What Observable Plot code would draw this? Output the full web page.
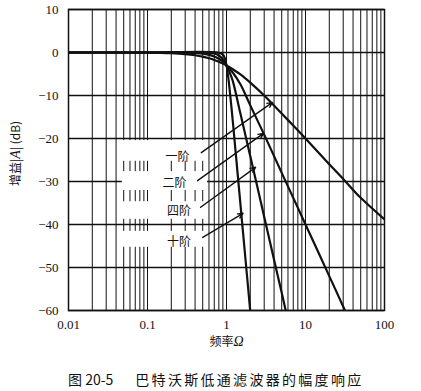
<!DOCTYPE html>
<html>
<head>
<meta charset="utf-8">
<script src="https://cdn.jsdelivr.net/npm/d3@7"></script>
<script src="https://cdn.jsdelivr.net/npm/@observablehq/plot@0.6"></script>
<style>
  html, body { margin: 0; padding: 0; background: #fff; }
  #wrap { position: relative; width: 421px; height: 391px; }
  #caption { position: absolute; left: 68px; top: 369px; font: 14px 'Noto Sans CJK SC', sans-serif; color: #111; white-space: nowrap; }
  #caption .t { margin-left: 22px; letter-spacing: 2.3px; }
</style>
</head>
<body>
<div id="wrap">
  <div id="chart"></div>
  <div id="caption"><span>图 20-5</span><span class="t">巴特沃斯低通滤波器的幅度响应</span></div>
</div>
<script>
// ---- data ----
const orders = ["一阶", "二阶", "四阶", "十阶"];

const omega1 = [0.01, 0.1, 0.2, 0.3, 0.4, 0.5, 0.6, 0.7, 0.8, 0.9, 1, 1.2, 1.5, 2, 3, 5, 7, 10, 20, 30, 50, 100];
const gain1  = [0, -0.04, -0.17, -0.37, -0.64, -0.97, -1.34, -1.73, -2.15, -2.57, -3.0, -3.9, -5.1, -7.0, -10.0, -14.2, -17.0, -20.0, -26.0, -29.4, -33.8, -38.8];

const omega2 = [0.01, 0.1, 0.3, 0.5, 0.6, 0.7, 0.8, 0.9, 1, 1.2, 1.5, 2, 3, 5, 7, 10, 20, 31.6];
const gain2  = [0, 0, -0.03, -0.26, -0.54, -0.93, -1.45, -2.08, -3.0, -4.65, -7.4, -12.3, -19.1, -28.0, -33.8, -40.0, -52.0, -60.0];

const omega4 = [0.01, 0.1, 0.5, 0.6, 0.7, 0.8, 0.9, 1, 1.1, 1.2, 1.5, 2, 3, 4, 5, 5.6];
const gain4  = [0, 0, -0.02, -0.07, -0.24, -0.7, -1.6, -3.0, -4.7, -6.6, -14.2, -24.1, -38.2, -48.2, -55.9, -59.9];

const omega10 = [0.01, 0.1, 0.8, 0.9, 0.95, 1, 1.05, 1.1, 1.2, 1.3, 1.5, 1.7, 2];
const gain10  = [0, 0, -0.05, -0.5, -1.33, -3.0, -5.6, -8.9, -15.9, -22.8, -35.2, -46.1, -60.2];

const xTicks = [0.01, 0.1, 1, 10, 100];
const yTicks = [10, 0, -10, -20, -30, -40, -50, -60];
const xGrid = [0.01, 0.02, 0.03, 0.04, 0.05, 0.06, 0.07, 0.08, 0.09,
               0.1, 0.2, 0.3, 0.4, 0.5, 0.6, 0.7, 0.8, 0.9,
               1, 2, 3, 4, 5, 6, 7, 8, 9,
               10, 20, 30, 40, 50, 60, 70, 80, 90, 100];

// label boxes (white patches behind labels), in data units
const boxX1 = [0.048, 0.048, 0.048, 0.048];
const boxX2 = [0.575, 0.575, 0.575, 0.575];
const boxY1 = [-20.5, -27.7, -34.7, -41.6];
const boxY2 = [-25.3, -32.1, -38.8, -45.3];

// label positions and arrows, in data units
const labelX = [0.24, 0.22, 0.25, 0.25];
const labelY = [-24.4, -30.5, -37.0, -44.0];
const arrowX1 = [0.48, 0.43, 0.47, 0.50];
const arrowY1 = [-23.3, -29.8, -36.0, -43.0];
const arrowX2 = [3.82, 2.94, 2.33, 1.62];
const arrowY2 = [-11.6, -18.8, -26.7, -37.4];

// ---- build tables ----
const series = [[omega1, gain1], [omega2, gain2], [omega4, gain4], [omega10, gain10]];
const curves = series.flatMap(([w, g], i) => w.map((v, j) => ({order: orders[i], w: v, g: g[j]})));
const boxes = orders.map((o, i) => ({x1: boxX1[i], x2: boxX2[i], y1: boxY1[i], y2: boxY2[i]}));
const labels = orders.map((o, i) => ({text: o, x: labelX[i], y: labelY[i]}));
const arrows = orders.map((o, i) => ({x1: arrowX1[i], y1: arrowY1[i], x2: arrowX2[i], y2: arrowY2[i]}));

const fmt = d => d < 0 ? "\u2212" + (-d) : String(d);

const chart = Plot.plot({
  width: 421,
  height: 358,
  marginTop: 9,
  marginBottom: 48,
  marginLeft: 68,
  marginRight: 37,
  style: {fontFamily: "'Liberation Serif', 'Noto Sans CJK SC', serif", fontSize: "13px", color: "#111", background: "#fff"},
  x: {type: "log", domain: [0.01, 100], ticks: xTicks, tickFormat: d => String(d), tickSize: 0, tickPadding: 9, label: null},
  y: {domain: [-60, 10], ticks: yTicks, tickFormat: fmt, tickSize: 0, tickPadding: 10, label: null},
  marks: [
    Plot.ruleX(xGrid, {stroke: "#111", strokeWidth: 1}),
    Plot.ruleY(yTicks, {stroke: "#111", strokeWidth: 1.5}),
    Plot.rect(boxes, {x1: "x1", x2: "x2", y1: "y1", y2: "y2", fill: "white"}),
    Plot.line(curves, {x: "w", y: "g", z: "order", stroke: "#111", strokeWidth: 2.2, curve: "catmull-rom", clip: true}),
    Plot.arrow(arrows, {x1: "x1", y1: "y1", x2: "x2", y2: "y2", stroke: "#111", strokeWidth: 1.4, headLength: 6, headAngle: 50}),
    Plot.text(labels, {x: "x", y: "y", text: "text", fontFamily: "'Noto Sans CJK SC', sans-serif", fontSize: 12, fill: "#111"}),
    Plot.frame({stroke: "#111", strokeWidth: 1.5}),
    Plot.text(["频率Ω"], {frameAnchor: "bottom", dy: 35, fontFamily: "'Noto Sans CJK SC', sans-serif", fontSize: 12, fill: "#111", className: "xlab"}),
    Plot.text(["增益|A| (dB)"], {frameAnchor: "left", dx: -52, dy: 26, rotate: -90, fontFamily: "'Noto Sans CJK SC', sans-serif", fontSize: 12, fill: "#111", className: "ylab"})
  ]
});
document.getElementById("chart").appendChild(chart);

// italic symbols in axis titles
function italicize(sel, parts) {
  d3.select(chart).selectAll(sel + " text").each(function() {
    const t = d3.select(this);
    t.text(null);
    parts.forEach(([s, it]) => {
      const sp = t.append("tspan").text(s);
      if (it) sp.attr("font-style", "italic").attr("font-family", "'Liberation Serif', serif").attr("font-size", 14);
    });
  });
}
italicize(".xlab", [["频率", false], ["Ω", true]]);
italicize(".ylab", [["增益|", false], ["A", true], ["| (dB)", false]]);
</script>
</body>
</html>
